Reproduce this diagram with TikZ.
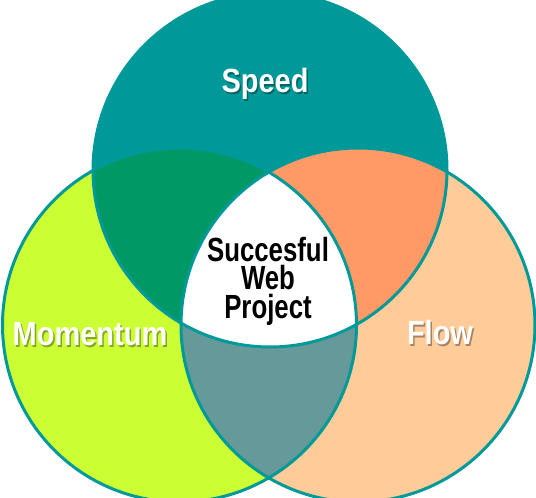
\documentclass[tikz,border=0pt]{standalone}
\usepackage{fontspec}
\setmainfont{Liberation Sans}
\newfontfamily\outerfont[FakeStretch=0.865]{Liberation Sans}
\newfontfamily\innerfont[FakeStretch=0.77]{Liberation Sans}
\usepackage{tikz}

\definecolor{speedc}{HTML}{009999}
\definecolor{momc}{HTML}{CCFF33}
\definecolor{flowc}{HTML}{FFCC99}
\definecolor{speedmomc}{HTML}{009966}
\definecolor{speedflowc}{HTML}{FF9966}
\definecolor{momflowc}{HTML}{669999}

\newcommand{\vennlabel}[3]{%
  \node[outer, text=black, opacity=0.35, xshift=1.5pt, yshift=-1.5pt] at (#2) {#3};
  \node[outer] (#1) at (#2) {#3};}

\begin{document}
\begin{tikzpicture}[
  x=1pt, y=1pt,
  ring/.style={draw=speedc, line width=3pt},
  outer/.style={font=\outerfont\bfseries\fontsize{33.5}{33.5}\selectfont, text=white, inner sep=0pt, anchor=base},
  inner/.style={font=\innerfont\bfseries\fontsize{33.5}{28.5}\selectfont, align=center, inner sep=0pt}
]
\clip (0,0) rectangle (536,498);
\def\rad{177}
\coordinate (speed) at (270,328);
\coordinate (mom) at (179.5,173);
\coordinate (flow) at (358,173);

\fill[speedc] (speed) circle (\rad);
\fill[momc] (mom) circle (\rad);
\fill[flowc] (flow) circle (\rad);
\begin{scope}
  \clip (mom) circle (\rad);
  \fill[momflowc] (flow) circle (\rad);
\end{scope}
\begin{scope}
  \clip (speed) circle (\rad);
  \fill[speedmomc] (mom) circle (\rad);
  \fill[speedflowc] (flow) circle (\rad);
  \clip (mom) circle (\rad);
  \fill[white] (flow) circle (\rad);
\end{scope}
\draw[ring] (speed) circle (\rad);
\draw[ring] (mom) circle (\rad);
\draw[ring] (flow) circle (\rad);

\vennlabel{speedlbl}{265,405}{Speed}
\vennlabel{momlbl}{90,152}{Momentum}
\vennlabel{flowlbl}{440,153}{Flow}
\node[inner] (goal) at (268,217) {Succesful\\Web\\Project};
\end{tikzpicture}
\end{document}
